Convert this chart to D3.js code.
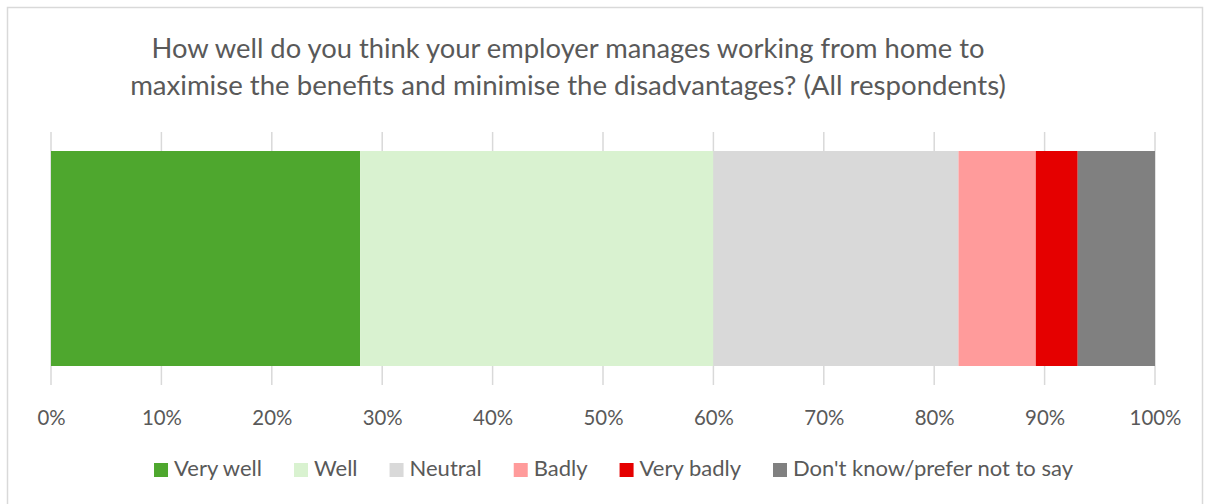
<!DOCTYPE html>
<html><head><meta charset="utf-8">
<script src="https://cdn.jsdelivr.net/npm/d3@7"></script>
<style>body{margin:0;background:#fff}svg{display:block}</style>
</head><body>
<svg id="c" width="1209" height="504"></svg>
<script>
const categories = ["Very well","Well","Neutral","Badly","Very badly","Don't know/prefer not to say"];
const values = [28.0, 32.0, 22.2, 7.0, 3.8, 7.0];
const colors = ["#4ea72e","#d9f2d0","#d9d9d9","#ff9b9b","#e50000","#808080"];
const ticks = [0,10,20,30,40,50,60,70,80,90,100];
const titleLines = ["How well do you think your employer manages working from home to","maximise the benefits and minimise the disadvantages? (All respondents)"];

const svg = d3.select("#c");
const font = "Lato, 'Open Sans', sans-serif";
const txt = "#595959";
svg.append("rect").attr("x",7.5).attr("y",7.5).attr("width",1195).attr("height",520)
  .attr("fill","#fff").attr("stroke","#d9d9d9").attr("stroke-width",1.5);

function fitSize(str, base, target){
  const tmp = svg.append("text").attr("font-family",font).attr("font-size",base).text(str);
  const w = tmp.node().getComputedTextLength(); tmp.remove();
  return base*target/w;
}

const x = d3.scaleLinear().domain([0,100]).range([51,1155]);
const y = d3.scaleBand().domain(["all"]).range([132,385]).paddingInner(0).paddingOuter(0.0884);

// gridlines
svg.append("g").selectAll("line").data(ticks).join("line")
  .attr("x1",d=>x(d)).attr("x2",d=>x(d)).attr("y1",132).attr("y2",385)
  .attr("stroke","#d9d9d9").attr("stroke-width",1.5);

// stacked bar
let cum = 0;
const segs = values.map((v,i)=>{const s={start:cum,end:cum+v,c:colors[i]};cum+=v;return s;});
svg.append("g").selectAll("rect").data(segs).join("rect")
  .attr("x",d=>x(d.start)).attr("width",d=>x(d.end)-x(d.start))
  .attr("y",y("all")).attr("height",y.bandwidth()).attr("fill",d=>d.c);

// axis labels
const tickSize = fitSize("30%", 18, 40);
const ax = d3.axisBottom(x).tickValues(ticks).tickFormat(d=>d+"%").tickSize(0).tickPadding(0);
const g = svg.append("g").attr("transform","translate(0,425)").call(ax);
g.select(".domain").remove();
g.selectAll("text").attr("font-family",font).attr("font-size",tickSize).attr("fill",txt).attr("dy",0);

// title
const t = svg.append("g");
const titleW = [833, 876];
titleLines.forEach((l,i)=>{
  const el = t.append("text").attr("x",568).attr("y",58+i*37).attr("text-anchor","middle")
    .attr("font-family",font).attr("font-size",24).attr("fill",txt).text(l);
  const w = el.node().getComputedTextLength();
  el.attr("font-size",24*titleW[i]/w);
});

// legend
const legSize = fitSize("Very well", 18, 88);
const lg = svg.append("g");
const items = lg.selectAll("g").data(categories).join("g");
items.append("rect").attr("width",14).attr("height",14).attr("y",-13).attr("fill",(d,i)=>colors[i]);
items.append("text").attr("x",20).attr("y",0).attr("font-family",font).attr("font-size",legSize)
  .attr("fill",txt).text(d=>d);
let pos = 0;
items.each(function(){
  const w = d3.select(this).select("text").node().getComputedTextLength();
  this.__x = pos; pos += 20 + w + 32;
});
const total = pos - 32;
const start = 613.5 - total/2;
items.attr("transform",function(){return `translate(${start+this.__x},476)`;});
</script>
</body></html>
